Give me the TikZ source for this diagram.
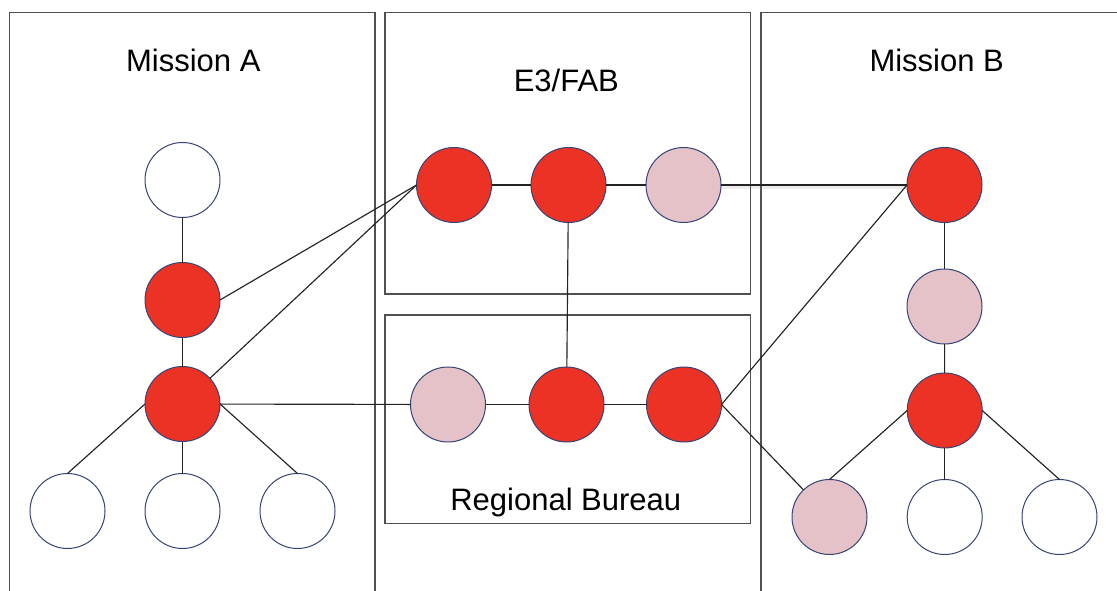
\documentclass[tikz,border=0pt]{standalone}
\usepackage{fontspec}
\setmainfont{Liberation Sans}
\definecolor{nodered}{RGB}{236,50,36}
\definecolor{nodepink}{RGB}{228,194,200}
\definecolor{rim}{RGB}{55,68,120}
\definecolor{frame}{RGB}{80,80,80}
\definecolor{wire}{RGB}{35,35,35}
\begin{document}
\begin{tikzpicture}[x=1pt,y=-1pt,
  unit/.style={circle, draw=rim, line width=1pt, minimum size=75pt, inner sep=0pt, outer sep=0pt},
  lead/.style={unit, fill=nodered},
  liaison/.style={unit, fill=nodepink},
  member/.style={unit, fill=white},
  panel/.style={draw=frame, line width=1.4pt},
  title/.style={anchor=base, font=\fontsize{31}{36}\selectfont, inner sep=0pt},
  link/.style={draw=wire, line width=1.15pt}]
\useasboundingbox (0,0) rectangle (1117,591);
\clip (0,0) rectangle (1117,591);

% organisational panels
\draw[panel] (9.5,12.7) rectangle (375,630);
\draw[panel] (385,12.7) rectangle (750.5,294);
\draw[panel] (385,315) rectangle (750.5,523.3);
\draw[panel] (761,12.7) rectangle (1150,630);

\node[title] (tA) at (193.3,71.7) {Mission A};
\node[title] (tE) at (566.3,92) {E3/FAB};
\node[title] (tB) at (936.7,71.7) {Mission B};
\node[title] (tR) at (565.8,510) {Regional Bureau};

% Mission A
\node[member] (a1) at (182.5,180) {};
\node[lead]   (a2) at (182.5,300) {};
\node[lead]   (a3) at (182.5,404) {};
\node[member] (a4) at (67.5,511) {};
\node[member] (a5) at (182.5,511) {};
\node[member] (a6) at (297.5,511) {};

% E3/FAB
\node[lead]    (e1) at (454,185) {};
\node[lead]    (e2) at (568.5,185) {};
\node[liaison] (e3) at (683.5,185) {};

% Regional Bureau
\node[liaison] (r1) at (448,404.5) {};
\node[lead]    (r2) at (566.5,404.5) {};
\node[lead]    (r3) at (684,404.5) {};

% Mission B
\node[lead]    (b1) at (944.5,185) {};
\node[liaison] (b2) at (944.5,306.5) {};
\node[lead]    (b3) at (944.7,410.5) {};
\node[liaison] (b4) at (829.5,517) {};
\node[member]  (b5) at (944.7,517) {};
\node[member]  (b6) at (1059.5,517) {};

% soft shadow under the long link
\draw[gray, line width=3pt, opacity=0.15] ([yshift=-2.5pt]e3.east) -- ([yshift=-2.5pt]b1.west);

% links inside Mission A
\draw[link] (a1) -- (a2);
\draw[link] (a2) -- (a3);
\draw[link] (a3.west) -- (a4.north);
\draw[link] (a3) -- (a5);
\draw[link] (a3.east) -- (a6.north);

% links inside E3/FAB and Regional Bureau
\draw[link] (e1) -- (e2);
\draw[link] (e2) -- (e3);
\draw[link] (r1) -- (r2);
\draw[link] (r2) -- (r3);
\draw[link] (e2) -- (r2);

% links inside Mission B
\draw[link] (b1) -- (b2);
\draw[link] (b2) -- (b3);
\draw[link] (b3.west) -- (b4.north);
\draw[link] (b3) -- (b5);
\draw[link] (b3.east) -- (b6.north);

% cross-unit links
\draw[link] (a2.east) -- (e1.west);
\draw[link] (a3) -- (e1.west);
\draw[link] (a3) -- (r1);
\draw[link] (e3.east) -- (b1.west);
\draw[link] (r3.east) -- (b1.west);
\draw[link] (r3.east) -- (b4);
\end{tikzpicture}
\end{document}
